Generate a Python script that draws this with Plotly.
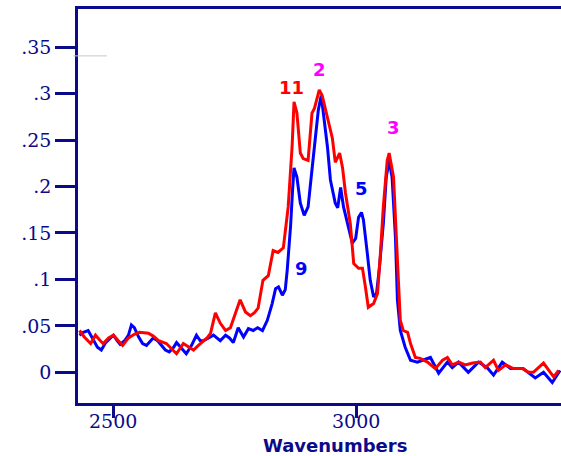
import plotly.graph_objects as go

# Red spectrum (wavenumber, absorbance)
red_x = [2430, 2440, 2453, 2463, 2473, 2479, 2490, 2500, 2510, 2519, 2531, 2543, 2554, 2572, 2582, 2593,
         2609, 2619, 2630, 2644, 2655, 2665, 2675, 2685, 2693, 2700, 2710, 2720, 2731, 2741, 2751, 2761,
         2772, 2782, 2790, 2798, 2808, 2819, 2829, 2839, 2850, 2854, 2860, 2868, 2872, 2878, 2885, 2891,
         2901, 2909, 2914, 2920, 2924, 2930, 2941, 2951, 2957, 2966, 2972, 2978, 2988, 2995, 3005, 3013,
         3019, 3025, 3036, 3044, 3050, 3056, 3064, 3068, 3077, 3081, 3087, 3091, 3097, 3106, 3112, 3122,
         3132, 3147, 3163, 3178, 3188, 3198, 3211, 3225, 3240, 3256, 3266, 3283, 3293, 3308, 3324, 3343,
         3355, 3365, 3386, 3400, 3407, 3417]
red_y = [0.045, 0.038, 0.031, 0.040, 0.034, 0.031, 0.037, 0.040, 0.034, 0.029, 0.037, 0.041, 0.043, 0.042, 0.039, 0.034,
         0.031, 0.026, 0.020, 0.031, 0.027, 0.024, 0.029, 0.034, 0.037, 0.042, 0.064, 0.053, 0.045, 0.048, 0.064, 0.078,
         0.065, 0.061, 0.064, 0.069, 0.099, 0.104, 0.131, 0.129, 0.134, 0.153, 0.178, 0.242, 0.291, 0.279, 0.236, 0.230,
         0.228, 0.279, 0.284, 0.296, 0.304, 0.298, 0.275, 0.252, 0.226, 0.236, 0.220, 0.193, 0.160, 0.117, 0.112, 0.112,
         0.092, 0.070, 0.074, 0.085, 0.128, 0.178, 0.228, 0.236, 0.210, 0.160, 0.099, 0.056, 0.045, 0.043, 0.031, 0.016,
         0.015, 0.011, 0.004, 0.013, 0.016, 0.008, 0.011, 0.008, 0.010, 0.011, 0.005, 0.013, 0.002, 0.008, 0.004, 0.004,
         0.000, 0.000, 0.010, 0.000, -0.005, 0.002]

# Blue spectrum
blue_x = [2430, 2438, 2448, 2459, 2467, 2475, 2484, 2494, 2500, 2508, 2514, 2523, 2531, 2537, 2543, 2552,
          2560, 2568, 2576, 2582, 2591, 2599, 2607, 2615, 2624, 2630, 2640, 2650, 2661, 2671, 2679, 2685,
          2696, 2706, 2720, 2731, 2739, 2747, 2757, 2768, 2778, 2788, 2797, 2807, 2817, 2827, 2834, 2840,
          2848, 2854, 2858, 2863, 2865, 2869, 2872, 2878, 2885, 2893, 2901, 2909, 2916, 2922, 2928, 2932,
          2941, 2947, 2957, 2962, 2968, 2974, 2982, 2992, 2999, 3005, 3011, 3015, 3023, 3029, 3036, 3042,
          3048, 3056, 3062, 3068, 3074, 3081, 3085, 3091, 3101, 3112, 3126, 3139, 3153, 3170, 3188, 3198,
          3211, 3231, 3252, 3270, 3283, 3301, 3318, 3344, 3369, 3386, 3404, 3420]
blue_y = [0.040, 0.043, 0.045, 0.034, 0.027, 0.024, 0.032, 0.037, 0.040, 0.034, 0.030, 0.034, 0.040, 0.051, 0.048, 0.038,
          0.031, 0.029, 0.034, 0.037, 0.034, 0.029, 0.024, 0.022, 0.027, 0.032, 0.026, 0.020, 0.029, 0.040, 0.034, 0.034,
          0.037, 0.040, 0.034, 0.040, 0.037, 0.032, 0.048, 0.038, 0.047, 0.045, 0.048, 0.045, 0.056, 0.074, 0.090, 0.092,
          0.083, 0.089, 0.110, 0.142, 0.158, 0.196, 0.220, 0.210, 0.182, 0.169, 0.178, 0.218, 0.253, 0.282, 0.298, 0.282,
          0.242, 0.207, 0.182, 0.177, 0.199, 0.178, 0.160, 0.139, 0.144, 0.167, 0.172, 0.164, 0.128, 0.099, 0.081, 0.085,
          0.113, 0.160, 0.210, 0.228, 0.210, 0.145, 0.078, 0.045, 0.027, 0.013, 0.011, 0.013, 0.016, -0.001, 0.011, 0.005,
          0.011, 0.000, 0.011, 0.005, -0.003, 0.011, 0.004, 0.004, -0.006, 0.000, -0.011, 0.002]

y_tick_vals = [0, 0.05, 0.1, 0.15, 0.2, 0.25, 0.3, 0.35]
y_tick_text = ["0", ".05", ".1", ".15", ".2", ".25", ".3", ".35"]
x_tick_vals = [2500, 3000]
x_tick_text = ["2500", "3000"]
x_title = "Wavenumbers"

peak_labels = ["11", "2", "3", "5", "9"]
peak_x = [2866, 2924, 3076, 3010, 2887]
peak_y = [0.306, 0.326, 0.263, 0.198, 0.112]
peak_colors = ["#ff0000", "#ff00ff", "#ff00ff", "#0000ff", "#0000ff"]

NAVY = "#0a0a8a"

fig = go.Figure()
fig.add_trace(go.Scatter(x=blue_x, y=blue_y, mode="lines",
                         line=dict(color="#0000ff", width=3), showlegend=False))
fig.add_trace(go.Scatter(x=red_x, y=red_y, mode="lines",
                         line=dict(color="#ff0000", width=3), showlegend=False))

for t, x, y, c in zip(peak_labels, peak_x, peak_y, peak_colors):
    fig.add_annotation(x=x, y=y, text=t, showarrow=False,
                       font=dict(family="DejaVu Sans", size=18, color=c, weight="bold"))

# x tick labels placed as text just below the tick marks
for v, t in zip(x_tick_vals, x_tick_text):
    fig.add_annotation(x=v, xref="x", yref="paper", y=-0.046, text=t, showarrow=False,
                       xanchor="center", yanchor="middle", borderpad=0,
                       font=dict(family="DejaVu Serif", size=19, color=NAVY))

fig.add_annotation(xref="paper", yref="paper", x=0.532, y=-0.108, text=x_title, showarrow=False,
                   xanchor="center", yanchor="middle", borderpad=0,
                   font=dict(family="DejaVu Sans", size=18, color=NAVY, weight="bold"))

fig.add_shape(type="line", xref="paper", yref="paper", x0=-0.010, x1=0.060, y0=0.881, y1=0.881,
              line=dict(color="#c8c8c8", width=1))

fig.update_layout(
    width=561, height=456,
    margin=dict(l=78, r=0, t=9, b=53, autoexpand=False),
    paper_bgcolor="white", plot_bgcolor="white",
    xaxis=dict(range=[2427, 3422], tickvals=x_tick_vals, showticklabels=False,
               showgrid=False, zeroline=False, showline=True, linecolor=NAVY, linewidth=2.5,
               mirror=True, ticks="outside", ticklen=12, tickwidth=2.5, tickcolor=NAVY),
    yaxis=dict(range=[-0.033, 0.391], tickvals=y_tick_vals, ticktext=y_tick_text,
               showgrid=False, zeroline=False, showline=True, linecolor=NAVY, linewidth=2.5,
               ticks="outside", ticklen=20, tickwidth=2.5, tickcolor=NAVY,
               tickfont=dict(family="DejaVu Serif", size=19, color=NAVY)),
)

fig.write_html("out.html", config={"displayModeBar": False},
               post_script="document.body.style.margin='0px';document.body.style.overflow='hidden';")
